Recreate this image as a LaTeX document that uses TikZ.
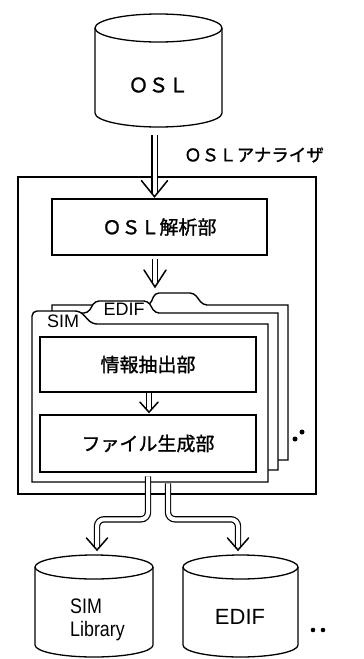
\documentclass[tikz,border=0pt]{standalone}
\usepackage{fontspec}
\setmainfont{Liberation Sans}
\newfontfamily\jpfont[FakeBold=1.2]{Noto Sans CJK JP}
\newfontfamily\narrowfont[FakeStretch=0.85]{Liberation Sans}
\usetikzlibrary{arrows.meta,calc}
\newcommand\vhead[3]{\draw[headline] ([shift={(-#2,#3)}]#1) -- (#1) -- ([shift={(#2,#3)}]#1);}
\begin{document}
\begin{tikzpicture}[x=1pt,y=1pt,
  lw/.style={line width=1.3pt},
  thickbox/.style={draw, line width=2.6pt, fill=white, inner sep=0pt},
  jp/.style={font=\jpfont\fontsize{#1}{#1}\selectfont, inner sep=0pt},
  lat/.style={font=\fontsize{#1}{#1}\selectfont, inner sep=0pt},
  folder/.style={line width=1.4pt, fill=white},
  dbl/.style={double, double distance=4pt, line width=1.2pt, shorten >=3pt},
  headline/.style={line width=1.5pt, line join=miter, line cap=round},
  dot/.style={circle, fill=black, inner sep=0pt, minimum size=5pt}
]
\useasboundingbox (0,0) rectangle (364,-659);

% OSL database
\draw[lw, fill=white] (95,-28) -- (95,-113) arc[start angle=180,end angle=360,x radius=63.5,y radius=14] -- (222,-28);
\draw[lw] (158.5,-28) ellipse[x radius=63.5, y radius=14];
\node[inner sep=0pt, minimum width=127pt, minimum height=113pt] (oslcyl) at (158.5,-70.5) {};
\node[jp=20] (osltext) at (158.5,-85) {ＯＳＬ};

% analyzer frame
\node[draw, line width=1.2pt, minimum width=298pt, minimum height=317pt, inner sep=0pt] (analyzer) at (167,-335.5) {};
\node[jp=17.5, anchor=west] (anlabel) at (184,-155) {ＯＳＬアナライザ};

% OSL parser
\node[thickbox, jp=19, minimum width=215pt, minimum height=56pt] (parse) at (159.5,-227) {ＯＳＬ解析部};

% folder stack (back to front)
\draw[folder] (52,-460) -- (52,-305) [rounded corners=4pt] -- (150,-305) -- (155,-293) -- (194,-293) -- (203,-305) [sharp corners] -- (288,-305) -- (288,-460) -- cycle;
\draw[folder] (42,-470) -- (42,-313) [rounded corners=4pt] -- (88,-313) -- (95,-301) -- (148,-301) -- (155,-313) [sharp corners] -- (278,-313) -- (278,-470) -- cycle;
\node[lat=18] (ediftab) at (124,-309) {EDIF};
\draw[folder] (268,-482) -- (32,-482) -- (32,-400) [rounded corners=5pt] -- (32,-311) -- (80,-311) -- (92,-324) [sharp corners] -- (268,-324) -- cycle;
\node[lat=18] (simtab) at (63,-321) {SIM};
\coordinate (stacktop) at (155,-287);

% inner blocks
\node[thickbox, jp=19, minimum width=216pt, minimum height=55pt] (info) at (148,-364.5) {情報抽出部};
\node[thickbox, jp=19, minimum width=216pt, minimum height=57pt] (file) at (148,-443.5) {ファイル生成部};

% dots
\node[dot] (d1) at (295,-439) {};
\node[dot] (d2) at (302,-432) {};

% output databases
\draw[lw, fill=white] (35,-567) -- (35,-645) arc[start angle=180,end angle=360,x radius=59,y radius=12] -- (153,-567);
\draw[lw] (94,-567) ellipse[x radius=59, y radius=12];
\node[inner sep=0pt, minimum width=118pt, minimum height=102pt] (simlib) at (94,-606) {};
\node[font=\narrowfont\fontsize{21}{23}\selectfont, align=left, anchor=west, inner sep=0pt] (simtext) at (70,-620) {SIM\\Library};

\draw[lw, fill=white] (183,-567) -- (183,-645) arc[start angle=180,end angle=360,x radius=57.5,y radius=12] -- (298,-567);
\draw[lw] (240.5,-567) ellipse[x radius=57.5, y radius=12];
\node[inner sep=0pt, minimum width=115pt, minimum height=102pt] (edif) at (240.5,-606) {};
\node[lat=22] (ediftext) at (240,-617) {EDIF};

\node[dot, minimum size=4.6pt] (d3) at (313,-630) {};
\node[dot, minimum size=4.6pt] (d4) at (323,-630) {};

% arrows
\coordinate (tipA) at ([xshift=-5pt,yshift=1pt]parse.north);
\coordinate (tipS) at ([xshift=1pt,yshift=1.5pt]file.north);
\coordinate (simtip) at (97,-550);
\coordinate (ediftip) at (238,-550);
\draw[dbl] ([xshift=-4pt,yshift=-8pt]oslcyl.south) -- (tipA);
\vhead{tipA}{13}{16}
\draw[dbl] ([xshift=-4.5pt,yshift=-3pt]parse.south) -- (stacktop);
\vhead{stacktop}{11}{17}
\draw[dbl] ([xshift=1pt]info.south) -- (tipS);
\vhead{tipS}{9}{10}
\draw[dbl, rounded corners=7pt] ([yshift=-3pt]file.south) -- ++(0,-43) -| (simtip);
\vhead{simtip}{10.5}{12}
\draw[dbl, rounded corners=7pt] ([xshift=20pt,yshift=-10pt]file.south) -- ++(0,-36) -| (ediftip);
\vhead{ediftip}{10.5}{12}
\end{tikzpicture}
\end{document}
